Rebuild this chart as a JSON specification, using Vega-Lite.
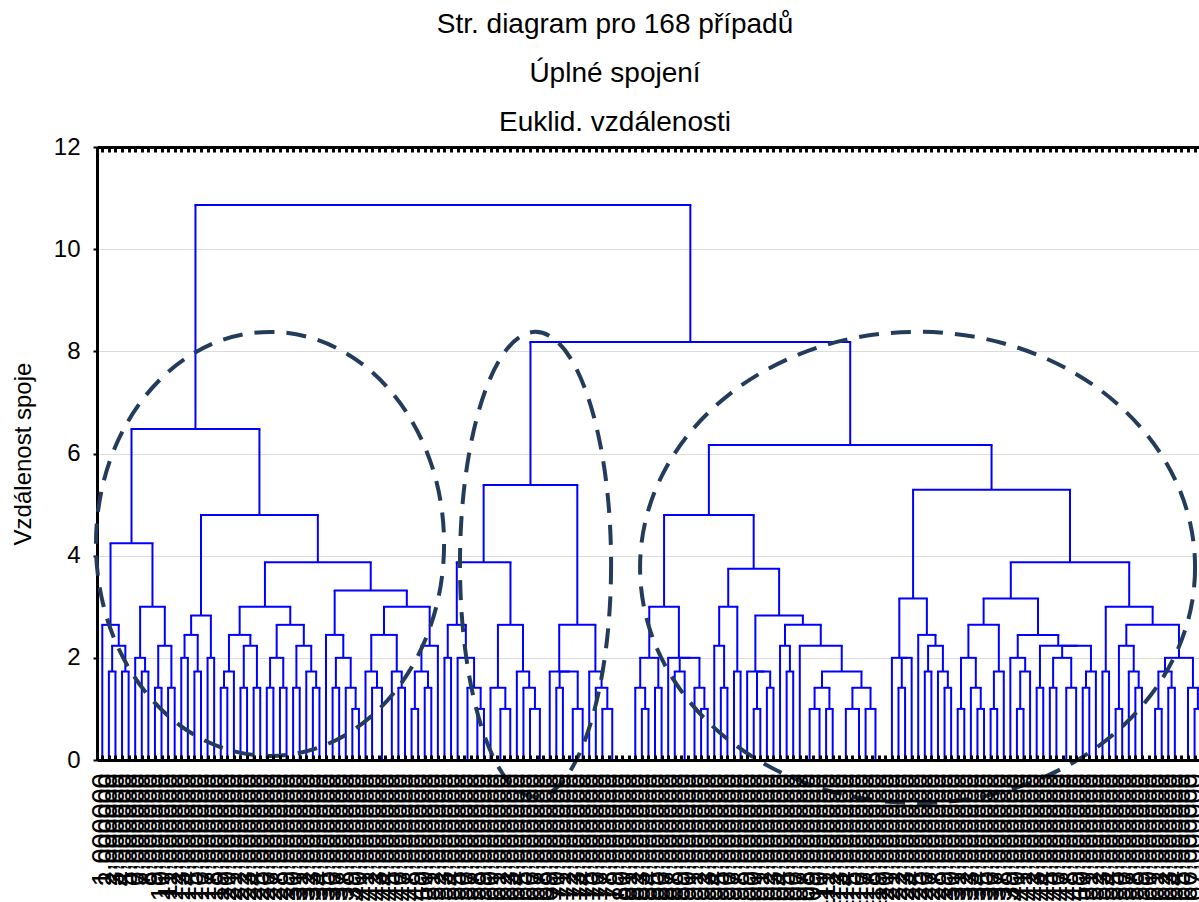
{
  "$schema": "https://vega.github.io/schema/vega-lite/v6.json",
  "width": 1102,
  "height": 613,
  "autosize": {"type": "none"},
  "padding": {"left": 97, "top": 147, "right": 0, "bottom": 142},
  "background": "white",
  "config": {"view": {"stroke": null}, "font": "Liberation Sans"},
  "title": {
    "text": ["Str. diagram pro 168 případů", "Úplné spojení", "Euklid. vzdálenosti"],
    "font": "Liberation Sans",
    "fontSize": 28,
    "fontWeight": "normal",
    "color": "black",
    "lineHeight": 49,
    "anchor": "middle",
    "frame": "group",
    "dx": -33,
    "dy": 40,
    "offset": 10,
    "baseline": "bottom"
  },
  "datasets": {
    "nodes": [
      {"xl":1,"hl":0,"xr":2,"hr":0,"h":1.732},
      {"xl":3,"hl":0,"xr":4,"hr":0,"h":1.732},
      {"xl":1.5,"hl":1.732,"xr":3.5,"hr":1.732,"h":2.236},
      {"xl":0,"hl":0,"xr":2.5,"hr":2.236,"h":2.646},
      {"xl":6,"hl":0,"xr":7,"hr":0,"h":1.732},
      {"xl":5,"hl":0,"xr":6.5,"hr":1.732,"h":2},
      {"xl":8,"hl":0,"xr":9,"hr":0,"h":1.414},
      {"xl":10,"hl":0,"xr":11,"hr":0,"h":1.414},
      {"xl":8.5,"hl":1.414,"xr":10.5,"hr":1.414,"h":2.236},
      {"xl":5.75,"hl":2,"xr":9.5,"hr":2.236,"h":3},
      {"xl":1.25,"hl":2.646,"xr":7.625,"hr":3,"h":4.243},
      {"xl":12,"hl":0,"xr":13,"hr":0,"h":2},
      {"xl":14,"hl":0,"xr":15,"hr":0,"h":1.732},
      {"xl":12.5,"hl":2,"xr":14.5,"hr":1.732,"h":2.449},
      {"xl":16,"hl":0,"xr":17,"hr":0,"h":2},
      {"xl":13.5,"hl":2.449,"xr":16.5,"hr":2,"h":2.828},
      {"xl":18,"hl":0,"xr":19,"hr":0,"h":1.414},
      {"xl":18.5,"hl":1.414,"xr":20,"hr":0,"h":1.732},
      {"xl":21,"hl":0,"xr":22,"hr":0,"h":1.414},
      {"xl":23,"hl":0,"xr":24,"hr":0,"h":1.414},
      {"xl":21.5,"hl":1.414,"xr":23.5,"hr":1.414,"h":2.236},
      {"xl":19.25,"hl":1.732,"xr":22.5,"hr":2.236,"h":2.449},
      {"xl":25,"hl":0,"xr":26,"hr":0,"h":1.414},
      {"xl":27,"hl":0,"xr":28,"hr":0,"h":1.414},
      {"xl":25.5,"hl":1.414,"xr":27.5,"hr":1.414,"h":2},
      {"xl":29,"hl":0,"xr":30,"hr":0,"h":1.414},
      {"xl":32,"hl":0,"xr":33,"hr":0,"h":1.414},
      {"xl":31,"hl":0,"xr":32.5,"hr":1.414,"h":1.732},
      {"xl":29.5,"hl":1.414,"xr":31.75,"hr":1.732,"h":2.236},
      {"xl":26.5,"hl":2,"xr":30.625,"hr":2.236,"h":2.646},
      {"xl":20.875,"hl":2.449,"xr":28.563,"hr":2.646,"h":3},
      {"xl":35,"hl":0,"xr":36,"hr":0,"h":1.414},
      {"xl":38,"hl":0,"xr":39,"hr":0,"h":1},
      {"xl":37,"hl":0,"xr":38.5,"hr":1,"h":1.414},
      {"xl":35.5,"hl":1.414,"xr":37.75,"hr":1.414,"h":2},
      {"xl":34,"hl":0,"xr":36.625,"hr":2,"h":2.449},
      {"xl":41,"hl":0,"xr":42.5,"hr":0,"h":1.414},
      {"xl":40,"hl":0,"xr":41.75,"hr":1.414,"h":1.732},
      {"xl":45,"hl":0,"xr":46,"hr":0,"h":1.414},
      {"xl":44,"hl":0,"xr":45.5,"hr":1.414,"h":1.732},
      {"xl":40.875,"hl":1.732,"xr":44.75,"hr":1.732,"h":2.449},
      {"xl":47,"hl":0,"xr":48,"hr":0,"h":1},
      {"xl":49,"hl":0,"xr":50,"hr":0,"h":1.414},
      {"xl":47.5,"hl":1,"xr":49.5,"hr":1.414,"h":1.732},
      {"xl":48.5,"hl":1.732,"xr":51,"hr":0,"h":2.236},
      {"xl":42.813,"hl":2.449,"xr":49.75,"hr":2.236,"h":3},
      {"xl":35.313,"hl":2.449,"xr":46.281,"hr":3,"h":3.317},
      {"xl":24.719,"hl":3,"xr":40.797,"hr":3.317,"h":3.873},
      {"xl":15,"hl":2.828,"xr":32.758,"hr":3.873,"h":4.796},
      {"xl":4.438,"hl":4.243,"xr":23.879,"hr":4.796,"h":6.481},
      {"xl":52,"hl":0,"xr":53,"hr":0,"h":2},
      {"xl":57,"hl":0,"xr":58,"hr":0,"h":1},
      {"xl":55.5,"hl":0,"xr":57.5,"hr":1,"h":1.414},
      {"xl":54,"hl":0,"xr":56.5,"hr":1.414,"h":2},
      {"xl":52.5,"hl":2,"xr":55.25,"hr":2,"h":2.646},
      {"xl":60.5,"hl":0,"xr":62,"hr":0,"h":1},
      {"xl":59,"hl":0,"xr":61.25,"hr":1,"h":1.414},
      {"xl":65,"hl":0,"xr":66.5,"hr":0,"h":1},
      {"xl":64,"hl":0,"xr":65.75,"hr":1,"h":1.414},
      {"xl":63,"hl":0,"xr":64.875,"hr":1.414,"h":1.732},
      {"xl":60.125,"hl":1.414,"xr":63.938,"hr":1.732,"h":2.646},
      {"xl":53.875,"hl":2.646,"xr":62.031,"hr":2.646,"h":3.873},
      {"xl":69,"hl":0,"xr":70,"hr":0,"h":1.414},
      {"xl":71.5,"hl":0,"xr":73,"hr":0,"h":1},
      {"xl":69.5,"hl":1.414,"xr":72.25,"hr":1,"h":1.732},
      {"xl":68,"hl":0,"xr":70.875,"hr":1.732,"h":1.732},
      {"xl":76,"hl":0,"xr":77.5,"hr":0,"h":1},
      {"xl":75,"hl":0,"xr":76.75,"hr":1,"h":1.414},
      {"xl":74,"hl":0,"xr":75.875,"hr":1.414,"h":1.732},
      {"xl":69.438,"hl":1.732,"xr":74.938,"hr":1.732,"h":2.646},
      {"xl":57.953,"hl":3.873,"xr":72.188,"hr":2.646,"h":5.385},
      {"xl":82,"hl":0,"xr":83,"hr":0,"h":1},
      {"xl":81,"hl":0,"xr":82.5,"hr":1,"h":1.414},
      {"xl":84,"hl":0,"xr":85,"hr":0,"h":1.414},
      {"xl":81.75,"hl":1.414,"xr":84.5,"hr":1.414,"h":2},
      {"xl":87,"hl":0,"xr":88.5,"hr":0,"h":1.732},
      {"xl":91,"hl":0,"xr":92,"hr":0,"h":1},
      {"xl":90,"hl":0,"xr":91.5,"hr":1,"h":1.414},
      {"xl":87.75,"hl":1.732,"xr":90.75,"hr":1.414,"h":2},
      {"xl":86,"hl":0,"xr":89.25,"hr":2,"h":2},
      {"xl":83.125,"hl":2,"xr":87.625,"hr":2,"h":3},
      {"xl":94,"hl":0,"xr":95,"hr":0,"h":1.414},
      {"xl":93,"hl":0,"xr":94.5,"hr":1.414,"h":2.236},
      {"xl":96,"hl":0,"xr":97,"hr":0,"h":1.732},
      {"xl":93.75,"hl":2.236,"xr":96.5,"hr":1.732,"h":3},
      {"xl":99,"hl":0,"xr":100,"hr":0,"h":1},
      {"xl":101,"hl":0,"xr":102,"hr":0,"h":1.414},
      {"xl":99.5,"hl":1,"xr":101.5,"hr":1.414,"h":1.732},
      {"xl":98,"hl":0,"xr":100.5,"hr":1.732,"h":1.732},
      {"xl":104,"hl":0,"xr":105,"hr":0,"h":1.732},
      {"xl":103,"hl":0,"xr":104.5,"hr":1.732,"h":2.236},
      {"xl":107.5,"hl":0,"xr":109,"hr":0,"h":1},
      {"xl":110,"hl":0,"xr":111,"hr":0,"h":1},
      {"xl":108.25,"hl":1,"xr":110.5,"hr":1,"h":1.414},
      {"xl":113,"hl":0,"xr":115,"hr":0,"h":1},
      {"xl":116,"hl":0,"xr":117.5,"hr":0,"h":1},
      {"xl":114,"hl":1,"xr":116.75,"hr":1,"h":1.414},
      {"xl":109.375,"hl":1.414,"xr":115.375,"hr":1.414,"h":1.732},
      {"xl":106,"hl":0,"xr":112.375,"hr":1.732,"h":2.236},
      {"xl":103.75,"hl":2.236,"xr":109.188,"hr":2.236,"h":2.646},
      {"xl":99.25,"hl":1.732,"xr":106.469,"hr":2.646,"h":2.828},
      {"xl":95.125,"hl":3,"xr":102.859,"hr":2.828,"h":3.742},
      {"xl":85.375,"hl":3,"xr":98.992,"hr":3.742,"h":4.796},
      {"xl":121,"hl":0,"xr":122,"hr":0,"h":1.414},
      {"xl":121.5,"hl":1.414,"xr":123,"hr":0,"h":2},
      {"xl":120,"hl":0,"xr":122.25,"hr":2,"h":2},
      {"xl":125,"hl":0,"xr":126,"hr":0,"h":1.732},
      {"xl":128,"hl":0,"xr":129,"hr":0,"h":1.414},
      {"xl":127,"hl":0,"xr":128.5,"hr":1.414,"h":1.732},
      {"xl":125.5,"hl":1.732,"xr":127.75,"hr":1.732,"h":2.236},
      {"xl":124,"hl":0,"xr":126.625,"hr":2.236,"h":2.449},
      {"xl":121.125,"hl":2,"xr":125.313,"hr":2.449,"h":3.162},
      {"xl":130,"hl":0,"xr":131,"hr":0,"h":1},
      {"xl":133,"hl":0,"xr":134,"hr":0,"h":1},
      {"xl":132,"hl":0,"xr":133.5,"hr":1,"h":1.414},
      {"xl":130.5,"hl":1,"xr":132.75,"hr":1.414,"h":2},
      {"xl":135,"hl":0,"xr":136,"hr":0,"h":1},
      {"xl":135.5,"hl":1,"xr":137,"hr":0,"h":1.732},
      {"xl":131.625,"hl":2,"xr":136.25,"hr":1.732,"h":2.646},
      {"xl":139,"hl":0,"xr":140,"hr":0,"h":1},
      {"xl":139.5,"hl":1,"xr":141,"hr":0,"h":1.732},
      {"xl":138,"hl":0,"xr":140.25,"hr":1.732,"h":2},
      {"xl":142,"hl":0,"xr":143,"hr":0,"h":1.414},
      {"xl":144,"hl":0,"xr":145,"hr":0,"h":1.414},
      {"xl":146.5,"hl":0,"xr":148,"hr":0,"h":1.414},
      {"xl":144.5,"hl":1.414,"xr":147.25,"hr":1.414,"h":2},
      {"xl":149,"hl":0,"xr":150,"hr":0,"h":1.414},
      {"xl":149.5,"hl":1.414,"xr":151,"hr":0,"h":1.732},
      {"xl":145.875,"hl":2,"xr":150.25,"hr":1.732,"h":2.236},
      {"xl":142.5,"hl":1.414,"xr":148.063,"hr":2.236,"h":2.236},
      {"xl":139.125,"hl":2,"xr":145.281,"hr":2.236,"h":2.449},
      {"xl":133.938,"hl":2.646,"xr":142.203,"hr":2.449,"h":3.162},
      {"xl":152,"hl":0,"xr":153,"hr":0,"h":1.732},
      {"xl":154,"hl":0,"xr":155,"hr":0,"h":1},
      {"xl":157,"hl":0,"xr":158,"hr":0,"h":1.414},
      {"xl":156,"hl":0,"xr":157.5,"hr":1.414,"h":1.732},
      {"xl":154.5,"hl":1,"xr":156.75,"hr":1.732,"h":2.236},
      {"xl":160,"hl":0,"xr":161,"hr":0,"h":1},
      {"xl":162,"hl":0,"xr":163,"hr":0,"h":1.414},
      {"xl":160.5,"hl":1,"xr":162.5,"hr":1.414,"h":1.732},
      {"xl":166,"hl":0,"xr":167,"hr":0,"h":1},
      {"xl":165,"hl":0,"xr":166.5,"hr":1,"h":1.414},
      {"xl":161.5,"hl":1.732,"xr":165.75,"hr":1.414,"h":2},
      {"xl":155.625,"hl":2.236,"xr":163.625,"hr":2,"h":2.646},
      {"xl":152.5,"hl":1.732,"xr":159.625,"hr":2.646,"h":3},
      {"xl":138.07,"hl":3.162,"xr":156.063,"hr":3,"h":3.873},
      {"xl":123.219,"hl":3.162,"xr":147.066,"hr":3.873,"h":5.292},
      {"xl":92.184,"hl":4.796,"xr":135.143,"hr":5.292,"h":6.164},
      {"xl":65.07,"hl":5.385,"xr":113.663,"hr":6.164,"h":8.185},
      {"xl":14.158,"hl":6.481,"xr":89.367,"hr":8.185,"h":10.863}
    ]
  },
  "layer": [
    {
      "data": {"name": "nodes"},
      "mark": {"type": "rule", "color": "#0000FF", "strokeWidth": 2, "clip": true},
      "encoding": {
        "x": {"field": "xr", "type": "quantitative",
          "scale": {"domain": [-0.805, 166.67], "nice": false, "zero": false}, "axis": null},
        "y": {"field": "hr", "type": "quantitative",
          "scale": {"domain": [0, 12], "nice": false, "zero": true},
          "axis": {"values": [0,2,4,6,8,10,12],
            "labelFont": "Liberation Sans", "labelFontSize": 24, "labelColor": "black",
            "labelPadding": 13, "tickSize": 4, "tickWidth": 2, "tickColor": "black",
            "domainColor": "black", "domainWidth": 3,
            "grid": true, "gridColor": "#dcdcdc", "gridWidth": 1,
            "title": "Vzdálenost spoje", "titleFont": "Liberation Sans", "titleFontSize": 24,
            "titleFontWeight": "normal", "titleColor": "black", "titlePadding": 18}},
        "y2": {"field": "h"}
      }
    },
    {
      "data": {"name": "nodes"},
      "mark": {"type": "rule", "color": "#0000FF", "strokeWidth": 2, "clip": true},
      "encoding": {
        "x": {"field": "xl", "type": "quantitative",
          "scale": {"domain": [-0.805, 166.67], "nice": false, "zero": false},
          "axis": {"orient": "top", "values": [0,1,2,3,4,5,6,7,8,9,10,11,12,13,14,15,16,17,18,19,20,21,22,23,24,25,26,27,28,29,30,31,32,33,34,35,36,37,38,39,40,41,42,43,44,45,46,47,48,49,50,51,52,53,54,55,56,57,58,59,60,61,62,63,64,65,66,67,68,69,70,71,72,73,74,75,76,77,78,79,80,81,82,83,84,85,86,87,88,89,90,91,92,93,94,95,96,97,98,99,100,101,102,103,104,105,106,107,108,109,110,111,112,113,114,115,116,117,118,119,120,121,122,123,124,125,126,127,128,129,130,131,132,133,134,135,136,137,138,139,140,141,142,143,144,145,146,147,148,149,150,151,152,153,154,155,156,157,158,159,160,161,162,163,164,165,166,167],
            "labels": false, "tickSize": -5, "tickWidth": 3, "tickColor": "black",
            "domainColor": "black", "domainWidth": 3, "grid": false, "title": null, "zindex": 1}},
        "y": {"field": "hl", "type": "quantitative",
          "scale": {"domain": [0, 12], "nice": false, "zero": true}},
        "y2": {"field": "h"}
      }
    },
    {
      "data": {"name": "nodes"},
      "mark": {"type": "rule", "color": "#0000FF", "strokeWidth": 2, "strokeCap": "square", "clip": true},
      "encoding": {
        "x": {"field": "xl", "type": "quantitative",
          "scale": {"domain": [-0.805, 166.67], "nice": false, "zero": false},
          "axis": {"orient": "bottom", "values": [0,1,2,3,4,5,6,7,8,9,10,11,12,13,14,15,16,17,18,19,20,21,22,23,24,25,26,27,28,29,30,31,32,33,34,35,36,37,38,39,40,41,42,43,44,45,46,47,48,49,50,51,52,53,54,55,56,57,58,59,60,61,62,63,64,65,66,67,68,69,70,71,72,73,74,75,76,77,78,79,80,81,82,83,84,85,86,87,88,89,90,91,92,93,94,95,96,97,98,99,100,101,102,103,104,105,106,107,108,109,110,111,112,113,114,115,116,117,118,119,120,121,122,123,124,125,126,127,128,129,130,131,132,133,134,135,136,137,138,139,140,141,142,143,144,145,146,147,148,149,150,151,152,153,154,155,156,157,158,159,160,161,162,163,164,165,166,167],
            "labelExpr": "datum.value + 1 + ',000000'",
            "labelAngle": 270, "labelFont": "Liberation Sans", "labelFontSize": 27, "labelColor": "black",
            "labelOverlap": false, "labelBound": false, "labelFlush": false, "labelPadding": 18,
            "tickSize": -5, "tickWidth": 3, "tickColor": "black",
            "domainColor": "black", "domainWidth": 3, "grid": false, "title": null, "zindex": 1}},
        "x2": {"field": "xr"},
        "y": {"field": "h", "type": "quantitative",
          "scale": {"domain": [0, 12], "nice": false, "zero": true}}
      }
    },
    {
      "data": {"values": [{"ellipse": "levý shluk", "cx": 25.49, "cy": 4.23}]},
      "mark": {"type": "point", "shape": "M 0.821 0 C 0.821 0.5523 0.4534 1 0 1 C -0.4534 1 -0.821 0.5523 -0.821 0 C -0.821 -0.5523 -0.4534 -1 0 -1 C 0.4534 -1 0.821 -0.5523 0.821 0 Z",
        "size": 179776, "filled": false, "stroke": "#243c5c", "strokeWidth": 4, "strokeDash": [20, 12], "opacity": 1, "strokeOpacity": 1, "clip": false},
      "encoding": {
        "x": {"field": "cx", "type": "quantitative", "scale": {"domain": [-0.805, 166.67], "nice": false, "zero": false}, "axis": null},
        "y": {"field": "cy", "type": "quantitative", "scale": {"domain": [0, 12], "nice": false, "zero": true}}
      }
    },
    {
      "data": {"values": [{"ellipse": "prostřední shluk", "cx": 65.84, "cy": 3.83}]},
      "mark": {"type": "point", "shape": "M 0.325 0 C 0.325 0.5523 0.1795 1 0 1 C -0.1795 1 -0.325 0.5523 -0.325 0 C -0.325 -0.5523 -0.1795 -1 0 -1 C 0.1795 -1 0.325 -0.5523 0.325 0 Z",
        "size": 216225, "filled": false, "stroke": "#243c5c", "strokeWidth": 4, "strokeDash": [20, 12], "opacity": 1, "strokeOpacity": 1, "clip": false},
      "encoding": {
        "x": {"field": "cx", "type": "quantitative", "scale": {"domain": [-0.805, 166.67], "nice": false, "zero": false}, "axis": null},
        "y": {"field": "cy", "type": "quantitative", "scale": {"domain": [0, 12], "nice": false, "zero": true}}
      }
    },
    {
      "data": {"values": [{"ellipse": "pravý shluk", "cx": 123.9, "cy": 3.77}]},
      "mark": {"type": "point", "shape": "M 1 0 C 1 0.4689 0.5523 0.849 0 0.849 C -0.5523 0.849 -1 0.4689 -1 0 C -1 -0.4689 -0.5523 -0.849 0 -0.849 C 0.5523 -0.849 1 -0.4689 1 0 Z",
        "size": 308025, "filled": false, "stroke": "#243c5c", "strokeWidth": 4, "strokeDash": [20, 12], "opacity": 1, "strokeOpacity": 1, "clip": false},
      "encoding": {
        "x": {"field": "cx", "type": "quantitative", "scale": {"domain": [-0.805, 166.67], "nice": false, "zero": false}, "axis": null},
        "y": {"field": "cy", "type": "quantitative", "scale": {"domain": [0, 12], "nice": false, "zero": true}}
      }
    }
  ]
}
